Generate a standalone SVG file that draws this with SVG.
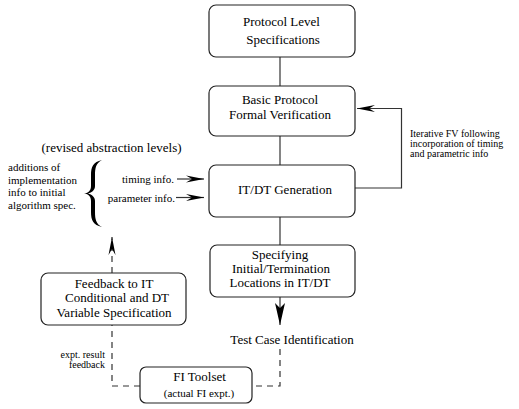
<svg xmlns="http://www.w3.org/2000/svg" width="519" height="409" viewBox="0 0 519 409" font-family="'Liberation Serif', 'DejaVu Serif', serif">
<style>
text{font-family:'Liberation Serif','DejaVu Serif',serif}
.box{fill:#fff;stroke:#222;stroke-width:1.2}
.t{font-size:13px;fill:#000;text-anchor:middle}
.s{font-size:11px;fill:#000}
.x{font-size:10px;fill:#000}
.r{font-size:10px;fill:#000}
.ln{fill:none;stroke:#333;stroke-width:1.2}
.dl{fill:none;stroke:#333;stroke-width:1.2;stroke-dasharray:6 5}
</style>
<defs>
<marker id="ah" viewBox="-19 -4 20 8" refX="0" refY="0" markerWidth="20" markerHeight="8" markerUnits="userSpaceOnUse" orient="auto">
<path d="M0,0 L-18,-3.5 L-12,0 L-18,3.5 Z" fill="#000"/>
</marker>
<marker id="ah2" viewBox="-23 -6 24 12" refX="0" refY="0" markerWidth="24" markerHeight="12" markerUnits="userSpaceOnUse" orient="auto">
<path d="M0,0 L-22,-5 L-17,0 L-22,5 Z" fill="#000"/>
</marker>
</defs>

<g id="connectors">
<path class="ln" d="M280,57 V86"/>
<path class="ln" d="M280,136 V165"/>
<path class="ln" d="M280,217 V245"/>
<path class="ln" d="M280,297 V325" marker-end="url(#ah2)"/>
<path class="ln" d="M355,188 H401.5 V108.5 H357" marker-end="url(#ah)"/>
<path class="ln" d="M177,179 H204" marker-end="url(#ah)"/>
<path class="ln" d="M176,197.5 H204" marker-end="url(#ah)"/>
<path class="dl" d="M280,349 V386 H253"/>
<path class="dl" d="M140,386 H112 V325"/>
<path class="dl" d="M112,273 V237" marker-end="url(#ah)"/>
</g>

<g id="protocol-level">
<rect class="box" x="209" y="5" width="146" height="52" rx="7"/>
<text class="t" x="281.5" y="26">Protocol Level</text>
<text class="t" x="283" y="43.5">Specifications</text>
</g>

<g id="basic-fv">
<rect class="box" x="209" y="86" width="146" height="50" rx="7"/>
<text class="t" x="280" y="104">Basic Protocol</text>
<text class="t" x="280" y="118.5">Formal Verification</text>
</g>

<g id="itdt">
<rect class="box" x="209" y="165" width="146" height="52" rx="7"/>
<text class="t" x="285" y="193.5">IT/DT Generation</text>
</g>

<g id="specifying">
<rect class="box" x="210" y="245" width="145" height="52" rx="7"/>
<text class="t" x="280" y="259">Specifying</text>
<text class="t" x="281" y="273">Initial/Termination</text>
<text class="t" x="280" y="287">Locations in IT/DT</text>
</g>

<g id="test-case">
<text class="t" x="292" y="344">Test Case Identification</text>
</g>

<g id="fi-toolset">
<rect class="box" x="140" y="367" width="112" height="36" rx="6"/>
<text class="t" x="199.5" y="381">FI Toolset</text>
<text class="s" x="199" y="397" text-anchor="middle">(actual FI expt.)</text>
</g>

<g id="feedback">
<rect class="box" x="41" y="273" width="145" height="52" rx="7"/>
<text class="t" x="114" y="287.5">Feedback to IT</text>
<text class="t" x="117" y="302">Conditional and DT</text>
<text class="t" x="114" y="316.5">Variable Specification</text>
</g>

<g id="expt-label">
<text class="x" x="105" y="358" text-anchor="end">expt. result</text>
<text class="x" x="105" y="368" text-anchor="end">feedback</text>
</g>

<g id="iterative-label">
<text class="r" x="410" y="137">Iterative FV following</text>
<text class="r" x="410" y="147">incorporation of timing</text>
<text class="r" x="410" y="157">and parametric info</text>
</g>

<g id="revised">
<text class="t" x="111.5" y="152">(revised abstraction levels)</text>
<text class="s" x="8" y="171">additions of</text>
<text class="s" x="8" y="183.5">implementation</text>
<text class="s" x="8" y="196">info to initial</text>
<text class="s" x="8" y="208.5">algorithm spec.</text>
<path d="M102,160 C93,162 91,167 91,175 L91,186 C91,190 89,193 84,193.5 C89,194 91,197 91,201 L91,212 C91,220 93,225 102,227 C96,224 95,219 95,212 L95,201 C95,197 92,194.5 88,193.5 C92,192.5 95,190 95,186 L95,175 C95,168 96,163 102,160 Z" fill="#000"/>
<text class="s" x="174" y="183" text-anchor="end">timing info.</text>
<text class="s" x="175" y="201.5" text-anchor="end">parameter info.</text>
</g>
</svg>
